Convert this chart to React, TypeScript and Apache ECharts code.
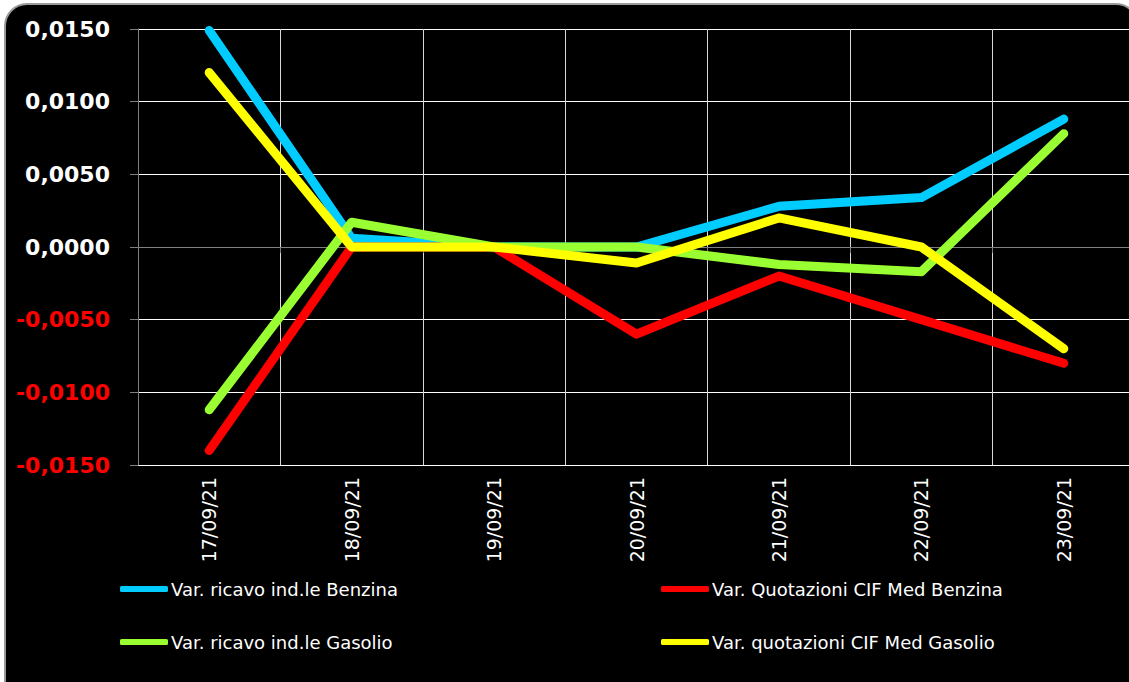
import React, { useEffect, useRef } from "react";
import * as echarts from "echarts";

const categories = ["17/09/21", "18/09/21", "19/09/21", "20/09/21", "21/09/21", "22/09/21", "23/09/21"];
const ricavoBenzina = [0.0149, 0.0006, 0.0, 0.0, 0.0028, 0.0034, 0.0088];
const quotazioniBenzina = [-0.014, 0.0, 0.0, -0.006, -0.002, -0.005, -0.008];
const ricavoGasolio = [-0.0112, 0.0017, 0.0, 0.0, -0.0012, -0.0017, 0.0078];
const quotazioniGasolio = [0.012, 0.0, 0.0, -0.0011, 0.002, 0.0, -0.007];

const seriesNames = [
  "Var. ricavo ind.le Benzina",
  "Var. Quotazioni CIF Med Benzina",
  "Var. ricavo ind.le Gasolio",
  "Var. quotazioni CIF Med Gasolio",
];
const seriesColors = ["#00CCFF", "#FF0000", "#99FF33", "#FFFF00"];
const seriesData = [ricavoBenzina, quotazioniBenzina, ricavoGasolio, quotazioniGasolio];

const yTicks = { min: -0.015, max: 0.015, interval: 0.005 };

export default function App() {
  const ref = useRef<HTMLDivElement>(null);
  useEffect(() => {
    document.body.style.margin = "0";
    const chart = echarts.init(ref.current!, null, { renderer: "svg" });
    const legendPos = [
      { left: 120, top: 580 },
      { left: 661, top: 580 },
      { left: 120, top: 633 },
      { left: 661, top: 633 },
    ];
    chart.setOption({
      animation: false,
      backgroundColor: "#ffffff",
      graphic: [
        {
          type: "rect",
          z: -10,
          shape: { x: 5, y: 4, width: 1133, height: 700, r: 22 },
          style: { fill: "#000000", stroke: "#9a9a9a", lineWidth: 2 },
        },
      ],
      grid: { left: 138, top: 29, right: 10, bottom: 217, containLabel: false },
      legend: seriesNames.map((n, i) => ({
        data: [n],
        left: legendPos[i].left,
        top: legendPos[i].top,
        icon: "roundRect",
        itemWidth: 48,
        itemHeight: 6,
        padding: 0,
        textStyle: { color: "#ffffff", fontSize: 18, fontFamily: "DejaVu Sans", padding: [0, 0, 0, -2] },
        selectedMode: false,
      })),
      xAxis: {
        type: "category",
        data: categories,
        boundaryGap: true,
        axisLine: { lineStyle: { color: "#808080", width: 1 } },
        axisTick: { show: true, length: 6, lineStyle: { color: "#808080" } },
        splitLine: { show: true, lineStyle: { color: "#d8d8d8", width: 1 } },
        axisLabel: {
          rotate: 90,
          margin: 12,
          color: "#ffffff",
          fontSize: 19,
          fontFamily: "DejaVu Sans",
        },
      },
      yAxis: {
        type: "value",
        min: yTicks.min,
        max: yTicks.max,
        interval: yTicks.interval,
        axisLine: { show: true, lineStyle: { color: "#808080", width: 1 } },
        axisTick: { show: true, length: 8, lineStyle: { color: "#808080" } },
        splitLine: { show: true, lineStyle: { color: "#ffffff", width: 1 } },
        axisLabel: {
          margin: 28,
          fontSize: 22,
          fontWeight: "bold",
          fontFamily: "DejaVu Sans",
          color: (v: any) => (Number(v) < -1e-9 ? "#FF0000" : "#ffffff"),
          formatter: (v: number) => {
            const s = Math.abs(v).toFixed(4).replace(".", ",");
            return v < -1e-9 ? "-" + s : s;
          },
        },
      },
      series: seriesNames.map((n, i) => ({
        name: n,
        type: "line",
        data: seriesData[i],
        symbol: "none",
        color: seriesColors[i],
        lineStyle: { color: seriesColors[i], width: 9, cap: "round", join: "round" },
        z: 2 + i,
      })),
    });
    return () => chart.dispose();
  }, []);
  return (
    <div style={{ width: 1129, height: 682, overflow: "hidden", position: "relative" }}>
      <div ref={ref} style={{ width: 1145, height: 682 }} />
    </div>
  );
}
